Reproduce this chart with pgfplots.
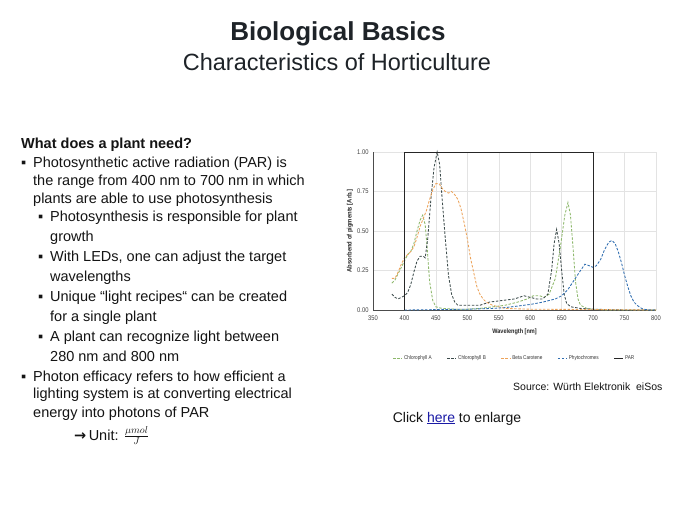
\documentclass[border=0pt]{standalone}
\usepackage{fontspec}
\setmainfont{Liberation Sans}
\newfontfamily\symfont{DejaVu Sans}
\usepackage{pgfplots}
\pgfplotsset{compat=1.18}
\usepackage{graphicx}
\definecolor{chlA}{HTML}{8DB86B}
\definecolor{chlB}{HTML}{3C4B4B}
\definecolor{beta}{HTML}{EDA35A}
\definecolor{phyto}{HTML}{2E6DB0}
\definecolor{titlec}{HTML}{1E2328}
\definecolor{bodyc}{HTML}{141414}
\definecolor{gridc}{HTML}{E3E3E3}
\definecolor{linkc}{HTML}{1A1AA6}
\newcommand{\bodyfont}{\fontsize{14.5}{17}\selectfont}
\newcommand{\nar}[1]{\scalebox{0.85}[1]{#1}}
\begin{document}
\begin{tikzpicture}
\useasboundingbox (0pt,0pt) rectangle (675pt,-506pt);
\fill[white] (0pt,0pt) rectangle (675pt,-506pt);
% titles
\node[anchor=base, inner sep=0pt, font=\fontsize{26}{30}\selectfont\bfseries, text=titlec] at (338pt,-40pt) {Biological Basics};
\node[anchor=base, inner sep=0pt, font=\fontsize{23.5}{28}\selectfont, text=titlec] at (337pt,-70pt) {Characteristics of Horticulture};
% body text
\begin{scope}[every node/.style={anchor=base west, inner sep=0pt, font=\bodyfont, text=bodyc}]
\node[font=\bodyfont\bfseries] at (21pt,-148pt) {What does a plant need?};
\node at (21pt,-167pt) {▪};
\node at (33pt,-167pt) {Photosynthetic active radiation (PAR) is};
\node at (33pt,-185pt) {the range from 400 nm to 700 nm in which};
\node at (33pt,-203pt) {plants are able to use photosynthesis};
\node at (38pt,-221pt) {▪};
\node at (50pt,-221pt) {Photosynthesis is responsible for plant};
\node at (50pt,-241pt) {growth};
\node at (38pt,-261pt) {▪};
\node at (50pt,-261pt) {With LEDs, one can adjust the target};
\node at (50pt,-281pt) {wavelengths};
\node at (38pt,-301pt) {▪};
\node at (50pt,-301pt) {Unique “light recipes“ can be created};
\node at (50pt,-321pt) {for a single plant};
\node at (38pt,-341pt) {▪};
\node at (50pt,-341pt) {A plant can recognize light between};
\node at (50pt,-361pt) {280 nm and 800 nm};
\node at (21pt,-381pt) {▪};
\node at (33pt,-381pt) {Photon efficacy refers to how efficient a};
\node at (33pt,-398pt) {lighting system is at converting electrical};
\node at (33pt,-417pt) {energy into photons of PAR};
\node at (74pt,-440pt) {{\symfont\bfseries →}\,Unit: $\frac{\mu mol}{J}$};
\end{scope}
\node[anchor=base west, inner sep=0pt, font=\fontsize{10.5}{12}\selectfont, text=bodyc] at (513pt,-390pt) {Source: Würth Elektronik\ \ eiSos};
\node[anchor=base, inner sep=0pt, font=\fontsize{14}{16}\selectfont, text=bodyc] at (457pt,-422pt) {Click \textcolor{linkc}{\underline{here}} to enlarge};
% chart
\begin{axis}[
  at={(373pt,-310pt)}, anchor=south west,
  width=283pt, height=158pt, scale only axis,
  xmin=350, xmax=800, ymin=0, ymax=1,
  xtick={350,400,...,800}, ytick={0,0.25,0.5,0.75,1},
  grid=major, major grid style={gridc, line width=0.5pt},
  axis x line*=bottom, axis y line*=left,
  axis line style={black!70, line width=0.8pt},
  major tick length=0pt,
  clip=false,
  /pgf/number format/assume math mode=true,
  tick label style={font=\fontsize{6.8}{7}\selectfont, text=black!75},
  yticklabel={\nar{\pgfmathprintnumber[fixed,fixed zerofill,precision=2]{\tick}}},
  xticklabel={\nar{\pgfmathprintnumber[1000 sep={}]{\tick}}},
  xticklabel style={yshift=-2pt},
  yticklabel style={xshift=-1pt},
  xlabel={\nar{Wavelength [nm]}},
  ylabel={\scalebox{0.9}[1]{Absorbend of pigments [Arb.]}},
  label style={font=\fontsize{6.5}{7}\selectfont\bfseries, text=black!85},
  xlabel style={at={(axis description cs:0.5,-0.139)}, anchor=center},
  ylabel style={at={(axis description cs:-0.081,0.5)}, anchor=center},
  legend style={at={(0.5,-0.304)}, anchor=center, draw=none, fill=none,
    font=\fontsize{5.5}{6}\selectfont, text=black!80,
    /tikz/every even column/.append style={column sep=13pt}},
  legend columns=5, legend cell align=left,
  legend image code/.code={\draw[#1] (0pt,0pt) -- (8.5pt,0pt);},
  every axis plot/.append style={line width=0.85pt},
]
\addplot[chlA, dash pattern=on 2.5pt off 1.6pt] coordinates {
(380,0.17) (385,0.19) (390,0.23) (395,0.27) (400,0.31) (405,0.35) (410,0.37)
(415,0.42) (420,0.50) (425,0.57) (429,0.60) (433,0.54) (436,0.40) (440,0.18)
(445,0.06) (450,0.02) (460,0.01) (480,0.005) (500,0.005) (520,0.01) (540,0.02)
(560,0.03) (580,0.05) (595,0.07) (605,0.09) (615,0.09) (622,0.08) (630,0.10)
(640,0.20) (648,0.40) (655,0.60) (660,0.68) (664,0.60) (668,0.40) (672,0.18)
(676,0.07) (680,0.03) (690,0.01) (700,0.005) (720,0.0) (800,0.0)};
\addlegendentry{\nar{Chlorophyll A}}
\addplot[chlB, dash pattern=on 2.5pt off 1.6pt] coordinates {
(380,0.10) (385,0.08) (390,0.07) (395,0.08) (400,0.09) (405,0.11) (410,0.16)
(415,0.24) (420,0.31) (425,0.34) (430,0.34) (433,0.33) (437,0.45) (442,0.70)
(447,0.90) (452,1.00) (456,0.92) (460,0.70) (465,0.45) (470,0.22) (475,0.10)
(480,0.05) (485,0.03) (500,0.03) (520,0.03) (535,0.05) (555,0.06) (575,0.07)
(590,0.09) (600,0.08) (610,0.07) (620,0.07) (628,0.10) (634,0.25) (638,0.42)
(642,0.51) (646,0.42) (650,0.25) (654,0.10) (658,0.04) (665,0.02) (680,0.01)
(700,0.005) (750,0.0) (800,0.0)};
\addlegendentry{\nar{Chlorophyll B}}
\addplot[beta, dash pattern=on 2.5pt off 1.6pt] coordinates {
(380,0.20) (385,0.20) (390,0.24) (395,0.29) (400,0.33) (405,0.35) (410,0.37)
(415,0.40) (420,0.46) (425,0.53) (430,0.58) (435,0.63) (440,0.70) (445,0.76)
(450,0.80) (455,0.80) (460,0.77) (465,0.75) (470,0.74) (475,0.75) (480,0.73)
(485,0.70) (490,0.64) (495,0.55) (500,0.45) (505,0.33) (510,0.24) (515,0.15)
(520,0.10) (525,0.07) (530,0.05) (540,0.03) (550,0.02) (560,0.01) (600,0.005)
(700,0.003) (800,0.0)};
\addlegendentry{\nar{Beta Carotene}}
\addplot[phyto, dash pattern=on 2.5pt off 1.6pt] coordinates {
(400,0.0) (500,0.005) (540,0.01) (560,0.015) (580,0.025) (600,0.035) (620,0.05)
(640,0.07) (650,0.09) (660,0.13) (670,0.19) (680,0.25) (687,0.29) (694,0.28)
(700,0.27) (705,0.28) (712,0.32) (718,0.38) (725,0.43) (730,0.44) (735,0.42)
(740,0.37) (745,0.30) (750,0.22) (755,0.15) (760,0.09) (765,0.05) (770,0.03)
(775,0.015) (780,0.005) (790,0.0) (800,0.0)};
\addlegendentry{\nar{Phytochromes}}
\addplot[black!85, line width=0.9pt] coordinates {(400,0) (400,1) (700,1) (700,0)};
\addlegendentry{\nar{PAR}}
\end{axis}
\end{tikzpicture}
\end{document}
